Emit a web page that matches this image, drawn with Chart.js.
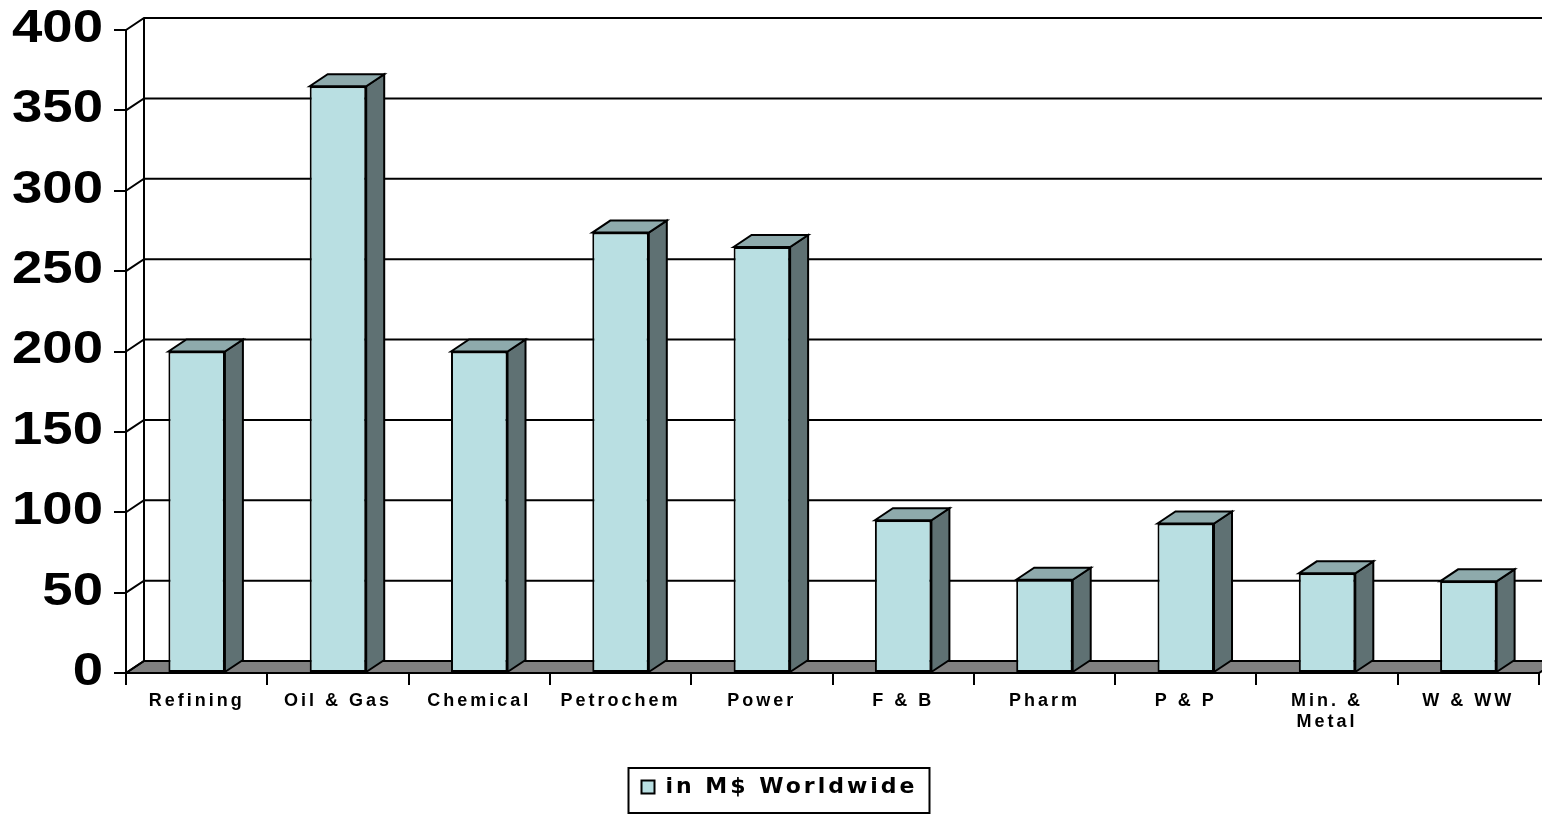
<!DOCTYPE html>
<html lang="en">
  <head>
    <meta charset="UTF-8" />
    <script src="https://cdn.jsdelivr.net/npm/chart.js@4.4.1/dist/chart.umd.min.js"></script>
    <title>in M$ Worldwide</title>
    <style>
      body { margin: 0; background: #fff; }
      canvas { display: block; }
    </style>
  </head>
  <body>
    <canvas id="myChart" width="1542" height="815"></canvas>
    <script>
      const categories = ["Refining", "Oil & Gas", "Chemical", "Petrochem", "Power", "F & B", "Pharm", "P & P", ["Min. &", "Metal"], "W & WW"];
      const values = [200, 365, 200, 274, 265, 95, 58, 93, 62, 57];
      const seriesName = "in M$ Worldwide";
      const yMin = 0, yMax = 400, yStep = 50;

      // depth of the fake 3D box
      const DX = 18, DY = -12;
      const frontColor = "#B9DFE2", sideColor = "#5F7173", topColor = "#8EAAAC", floorColor = "#808080";

      function poly(ctx, pts, fill) {
        ctx.beginPath();
        ctx.moveTo(pts[0][0], pts[0][1]);
        for (let i = 1; i < pts.length; i++) ctx.lineTo(pts[i][0], pts[i][1]);
        ctx.closePath();
        ctx.fillStyle = fill;
        ctx.fill();
        ctx.stroke();
      }

      const box3d = {
        id: "box3d",
        beforeLayout(chart) {
          chart.ctx.letterSpacing = "3px";
        },
        beforeDraw(chart) {
          const { ctx, chartArea: a, scales: { y } } = chart;
          ctx.letterSpacing = "3px";
          ctx.save();
          ctx.strokeStyle = "#000";
          ctx.lineWidth = 2;
          const y0 = y.getPixelForValue(yMin);
          // floor
          poly(ctx, [[a.left, y0], [a.right, y0], [a.right + DX, y0 + DY], [a.left + DX, y0 + DY]], floorColor);
          // side wall diagonals + back wall gridlines
          ctx.beginPath();
          y.ticks.forEach((t) => {
            const py = y.getPixelForValue(t.value);
            ctx.moveTo(a.left, py);
            ctx.lineTo(a.left + DX, py + DY);
            ctx.lineTo(chart.width, py + DY);
          });
          ctx.moveTo(a.left + DX, y.getPixelForValue(yMax) + DY);
          ctx.lineTo(a.left + DX, y0 + DY);
          ctx.stroke();
          // value labels, wide bold like the original
          ctx.letterSpacing = "0px";
          ctx.fillStyle = "#000";
          ctx.font = "bold 47px 'Liberation Sans', Arial";
          ctx.textAlign = "right";
          ctx.textBaseline = "middle";
          y.ticks.forEach((t) => {
            ctx.save();
            ctx.translate(y.right - 23, y.getPixelForValue(t.value) - 1);
            ctx.scale(1.16, 1);
            ctx.fillText(String(t.value), 0, 0);
            ctx.restore();
          });
          ctx.restore();
        },
        afterDatasetsDraw(chart) {
          const ctx = chart.ctx;
          ctx.save();
          ctx.strokeStyle = "#000";
          ctx.lineWidth = 2;
          chart.getDatasetMeta(0).data.forEach((bar) => {
            const { x, y, base, width } = bar.getProps(["x", "y", "base", "width"], true);
            const l = x - width / 2, r = x + width / 2;
            poly(ctx, [[r, y], [r + DX, y + DY], [r + DX, base + DY], [r, base]], sideColor);
            poly(ctx, [[l, y], [l + DX, y + DY], [r + DX, y + DY], [r, y]], topColor);
          });
          ctx.restore();
        },
        afterDraw(chart) {
          const hb = chart.legend.legendHitBoxes[0];
          if (!hb) return;
          const ctx = chart.ctx;
          ctx.save();
          ctx.strokeStyle = "#000";
          ctx.lineWidth = 2;
          ctx.strokeRect(hb.left - 13, hb.top - 8, hb.width + 25, 45);
          ctx.restore();
        },
      };

      const ctx = document.getElementById("myChart").getContext("2d");
      const myChart = new Chart(ctx, {
        type: "bar",
        data: {
          labels: categories,
          datasets: [
            {
              label: seriesName,
              data: values,
              backgroundColor: frontColor,
              borderColor: "#000",
              borderWidth: 2,
              borderSkipped: false,
              barPercentage: 0.4,
              categoryPercentage: 1.0,
            },
          ],
        },
        plugins: [box3d],
        options: {
          responsive: false,
          animation: false,
          devicePixelRatio: 1,
          layout: { padding: { left: 20, right: 3, top: 30, bottom: 7 } },
          plugins: {
            tooltip: { enabled: false },
            legend: {
              position: "bottom",
              labels: {
                color: "#000",
                boxWidth: 13,
                boxHeight: 13,
                padding: 10,
                font: { family: "'DejaVu Sans'", weight: "bold", size: 22 },
              },
            },
          },
          scales: {
            x: {
              afterFit: (s) => { s.height = 93; },
              grid: { offset: true, drawOnChartArea: false, drawTicks: true, tickLength: 12, color: "#000", lineWidth: 2 },
              border: { display: true, color: "#000", width: 2 },
              ticks: {
                color: "#000",
                padding: 5,
                maxRotation: 0,
                autoSkip: false,
                font: { family: "'Liberation Sans', Arial", weight: "bold", size: 18 },
              },
            },
            y: {
              min: yMin,
              max: yMax,
              afterFit: (s) => { s.width = 106; },
              grid: { drawOnChartArea: false, drawTicks: true, tickLength: 12, color: "#000", lineWidth: 2 },
              border: { display: true, color: "#000", width: 2 },
              ticks: { stepSize: yStep, display: false },
            },
          },
        },
      });
    </script>
  </body>
</html>
